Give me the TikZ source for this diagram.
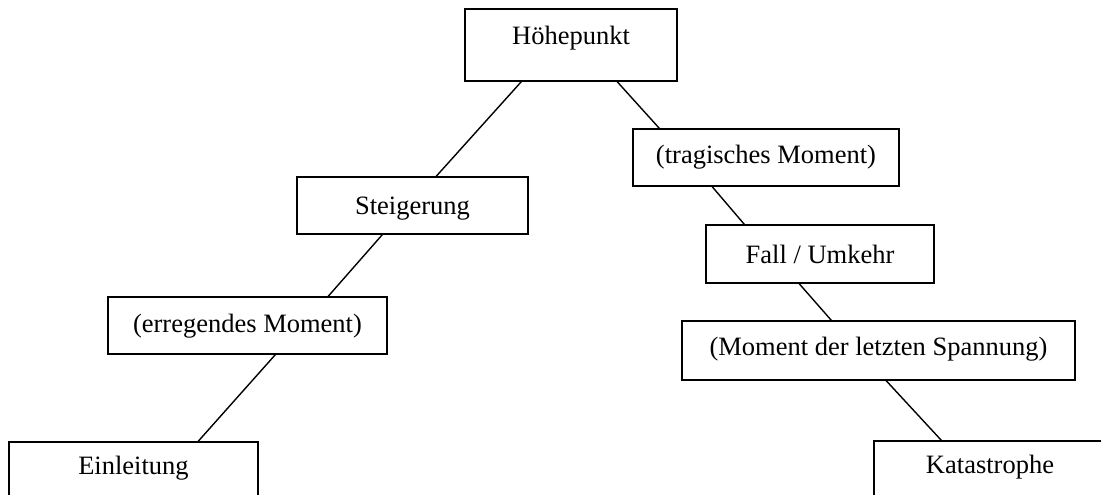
\documentclass[tikz,border=0pt]{standalone}
\usepackage{fontspec}
\setmainfont{Liberation Serif}
\begin{document}
\begin{tikzpicture}[x=1pt,y=-1pt,
  font=\fontsize{26.5}{32}\selectfont,
  box/.style={draw, line width=1.5pt, inner sep=0pt, text height=18pt, text depth=4pt},
  conn/.style={line width=1.4pt}]
\clip (0,0) rectangle (1101,495);
\fill[white] (0,0) rectangle (1101,495);
\node[box, minimum width=212pt, minimum height=72pt, text depth=18pt] (H) at (571,45) {Höhepunkt};
\node[box, minimum width=266pt, minimum height=57pt, text depth=7pt] (T) at (766,157.5) {(tragisches Moment)};
\node[box, minimum width=231pt, minimum height=57pt, text depth=0pt] (S) at (412.5,205.5) {Steigerung};
\node[box, minimum width=228pt, minimum height=58pt, text depth=0pt] (F) at (820,254) {Fall / Umkehr};
\node[box, minimum width=279pt, minimum height=57pt] (E) at (247.5,325.5) {(erregendes Moment)};
\node[box, minimum width=393pt, minimum height=59pt, text depth=8pt] (M) at (878.5,350.5) {(Moment der letzten Spannung)};
\node[box, minimum width=249pt, minimum height=57pt, text depth=10pt] (Ein) at (133.5,470.5) {Einleitung};
\node[box, minimum width=232pt, minimum height=57pt, text depth=10pt] (K) at (990,469.5) {Katastrophe};
\draw[conn] ([xshift=57pt]H.south west) -- ([xshift=140pt]S.north west);
\draw[conn] ([xshift=153pt]H.south west) -- ([xshift=27pt]T.north west);
\draw[conn] ([xshift=86pt]S.south west) -- ([xshift=221pt]E.north west);
\draw[conn] ([xshift=80pt]T.south west) -- ([xshift=39pt]F.north west);
\draw[conn] ([xshift=168pt]E.south west) -- ([xshift=190pt]Ein.north west);
\draw[conn] ([xshift=94pt]F.south west) -- ([xshift=150pt]M.north west);
\draw[conn] ([xshift=205pt]M.south west) -- ([xshift=68pt]K.north west);
\end{tikzpicture}
\end{document}
